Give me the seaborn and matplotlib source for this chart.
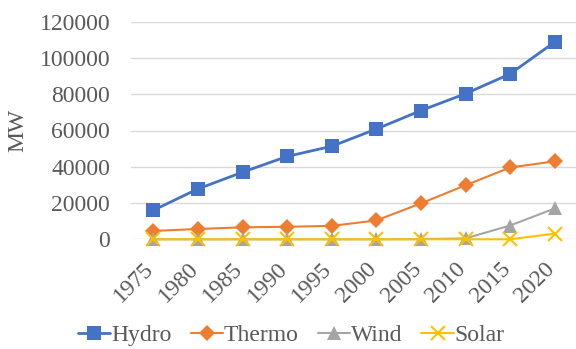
import matplotlib
matplotlib.use("Agg")
import matplotlib.pyplot as plt
import matplotlib.transforms as mtransforms
import seaborn as sns
import pandas as pd

years = ["1975", "1980", "1985", "1990", "1995", "2000", "2005", "2010", "2015", "2020"]
hydro = [16000, 27800, 37000, 45700, 51300, 60800, 71000, 80300, 91200, 108800]
thermo = [4600, 5700, 6600, 6900, 7400, 10400, 19800, 29800, 39600, 43000]
wind = [0, 0, 0, 0, 0, 0, 100, 500, 7600, 17000]
solar = [0, 0, 0, 0, 0, 0, 0, 0, 0, 3100]
series_names = ["Hydro", "Thermo", "Wind", "Solar"]

sns.set_theme(style="white")
plt.rcParams["font.family"] = ["Liberation Serif", "DejaVu Serif"]

df = pd.DataFrame({"Year": years, "Hydro": hydro, "Thermo": thermo, "Wind": wind, "Solar": solar})
long = df.melt(id_vars="Year", var_name="Source", value_name="MW")

styles = {
    "Hydro": dict(color="#4472C4", marker="s", markersize=10, lw=2.0, mew=0),
    "Thermo": dict(color="#ED7D31", marker="D", markersize=8, lw=1.5, mew=0),
    "Wind": dict(color="#A5A5A5", marker="^", markersize=10, lw=1.5, mew=0),
    "Solar": dict(color="#FFC000", marker="x", markersize=10, lw=1.5, mew=1.5),
}

FS = 17

fig = plt.figure(figsize=(5.76, 3.49), dpi=100)
ax = fig.add_axes([131/576, 1-239.3/349, 446/576, (239.3-21.7)/349])

for name in series_names:
    st = styles[name]
    sub = long[long["Source"] == name]
    sns.lineplot(data=sub, x="Year", y="MW", ax=ax, label=name,
                 color=st["color"], marker=st["marker"], markersize=st["markersize"],
                 linewidth=st["lw"], markeredgewidth=st["mew"],
                 markeredgecolor=st["color"], sort=False, clip_on=False)

ax.set_xlim(-0.5, len(years) - 0.5)
ax.set_ylim(0, 120000)
ax.set_yticks(range(0, 120001, 20000))
ax.set_yticklabels([str(v) for v in range(0, 120001, 20000)])
ax.grid(axis="y", color="#D9D9D9", linewidth=1.0)
ax.set_axisbelow(True)
for s in ax.spines.values():
    s.set_visible(False)
ax.tick_params(axis="y", length=0, labelsize=FS, colors="#595959", pad=15)
ax.tick_params(axis="x", length=0, labelsize=FS, colors="#595959", pad=19)
offset = mtransforms.ScaledTranslation(-3/100, 0, fig.dpi_scale_trans)
for lab in ax.get_xticklabels():
    lab.set_rotation(45)
    lab.set_ha("right")
    lab.set_va("center")
    lab.set_rotation_mode("anchor")
    lab.set_transform(lab.get_transform() + offset)
ax.set_xlabel("")
ax.set_ylabel("MW", fontsize=FS, color="#595959", labelpad=8)

ax.get_legend().remove()
handles, labels = ax.get_legend_handles_labels()
fig.legend(handles, labels, loc="center", bbox_to_anchor=(0.506, 0.040), ncol=4,
           frameon=False, fontsize=FS, handlelength=1.36, handletextpad=0.05,
           columnspacing=0.8, labelcolor="#595959", borderaxespad=0, borderpad=0)

fig.savefig("out.png", dpi=100)
